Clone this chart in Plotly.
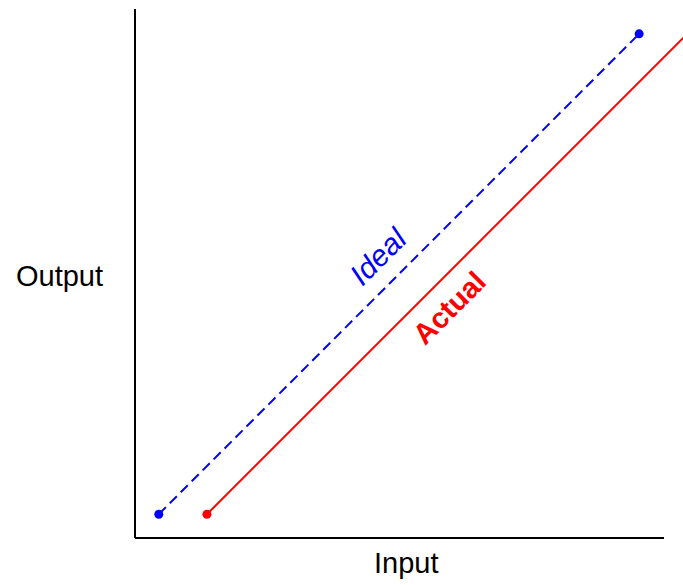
import plotly.graph_objects as go

# Transfer characteristic: ideal (y = x) versus actual (offset) response
ideal_x = [0.45, 9.53]
ideal_y = [0.45, 9.53]
actual_x = [1.36, 10.60]
actual_y = [0.45, 9.69]

axis_max = 10.0
x_title = "Input"
y_title = "Output"
ideal_label = "Ideal"
actual_label = "Actual"

BLUE = "#0000ff"
RED = "#ff0000"
FONT = "Liberation Sans, Arial, sans-serif"

# pixel scale: 52.9 px per unit, origin at (135, 538)
s = 52.9
W, H = 683, 585
L, B, T = 125, 37, 0
x_range = [(L - 135) / s, (W - 135) / s]
y_range = [(538 - (H - B)) / s, (538 - T) / s]

fig = go.Figure()

fig.add_trace(go.Scatter(
    x=ideal_x, y=ideal_y, mode="lines+markers",
    line=dict(color=BLUE, width=2, dash="10px,5.5px"),
    marker=dict(color=BLUE, size=9, opacity=1),
    hoverinfo="skip", showlegend=False, cliponaxis=False,
))
fig.add_trace(go.Scatter(
    x=actual_x, y=actual_y, mode="lines",
    line=dict(color=RED, width=2),
    hoverinfo="skip", showlegend=False,
))
# start point of the actual response
fig.add_trace(go.Scatter(
    x=actual_x[:1], y=actual_y[:1], mode="markers",
    marker=dict(color=RED, size=9, opacity=1),
    hoverinfo="skip", showlegend=False, cliponaxis=False,
))

# L-shaped axes
fig.add_shape(type="line", x0=0, y0=0, x1=0, y1=axis_max,
              line=dict(color="black", width=2))
fig.add_shape(type="line", x0=0, y0=0, x1=axis_max, y1=0,
              line=dict(color="black", width=2))

# line labels along the diagonal
fig.add_annotation(x=4.59, y=5.33, text="<i>" + ideal_label + "</i>",
                   textangle=-45, showarrow=False,
                   xanchor="center", yanchor="middle",
                   font=dict(family=FONT, size=30, color=BLUE))
fig.add_annotation(x=5.94, y=4.35, text="<b>" + actual_label + "</b>",
                   textangle=-45, showarrow=False,
                   xanchor="center", yanchor="middle",
                   font=dict(family=FONT, size=29, color=RED))

# axis titles
pw, ph = W - L, H - B - T
fig.add_annotation(xref="paper", yref="paper",
                   x=(59 - L) / pw, y=((H - B) - 276) / ph,
                   xanchor="center", yanchor="middle",
                   text=y_title, showarrow=False,
                   font=dict(family=FONT, size=29, color="black"))
fig.add_annotation(xref="paper", yref="paper",
                   x=(406 - L) / pw, y=((H - B) - 563) / ph,
                   xanchor="center", yanchor="middle",
                   text=x_title, showarrow=False,
                   font=dict(family=FONT, size=29, color="black"))

fig.update_xaxes(range=x_range, visible=False, fixedrange=True)
fig.update_yaxes(range=y_range, visible=False, fixedrange=True)
fig.update_layout(
    width=W, height=H,
    margin=dict(l=L, r=0, t=T, b=B),
    paper_bgcolor="white", plot_bgcolor="white",
)

fig.write_html("out.html")
